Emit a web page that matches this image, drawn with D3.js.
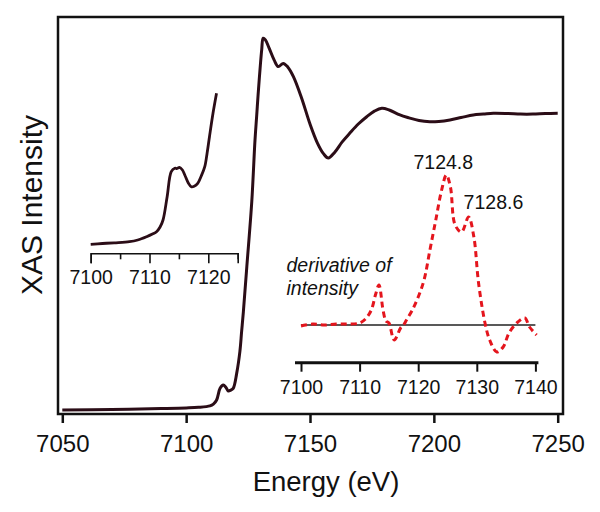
<!DOCTYPE html>
<html>
<head>
<meta charset="utf-8">
<script src="https://cdn.jsdelivr.net/npm/d3@7"></script>
<style>
  html, body { margin: 0; padding: 0; background: #fff; }
  svg { display: block; }
  text { font-family: "Liberation Sans", Arial, sans-serif; fill: #111; }
</style>
</head>
<body>
<svg id="chart" width="600" height="512"></svg>
<script>
// ---- Main XAS spectrum (energy eV, normalized intensity) ----
const mainEnergy = [7050, 7070, 7090, 7100, 7105, 7109.6, 7111, 7112.3, 7113.7, 7115, 7116, 7117, 7118, 7119,
  7120.4, 7121.7, 7122.4, 7123.1, 7124.5, 7126.5, 7127.8, 7128.5, 7129.1, 7130.5, 7131.1, 7132, 7133.5, 7135.5,
  7137.2, 7139.2, 7141, 7143.3, 7146.6, 7150, 7153, 7155.5, 7157.4, 7160, 7163, 7166.1, 7169.5, 7172.9, 7176,
  7179, 7182, 7186.3, 7190, 7194, 7198.4, 7202, 7206.5, 7211, 7215.9, 7220, 7224, 7230, 7235, 7240, 7245, 7250];
const mainIntensity = [0.000, 0.002, 0.005, 0.007, 0.009, 0.014, 0.020, 0.034, 0.074, 0.085, 0.078, 0.065, 0.068, 0.074,
  0.125, 0.200, 0.268, 0.335, 0.490, 0.712, 0.922, 1.007, 1.082, 1.229, 1.269, 1.263, 1.235, 1.195,
  1.172, 1.183, 1.171, 1.138, 1.065, 0.976, 0.911, 0.874, 0.860, 0.880, 0.915, 0.945, 0.976, 1.001, 1.020,
  1.030, 1.024, 1.007, 0.997, 0.988, 0.984, 0.985, 0.990, 0.998, 1.007, 1.010, 1.013, 1.012, 1.010, 1.010, 1.012, 1.013];
const mainTicks = [7050, 7100, 7150, 7200, 7250];

// ---- Pre-edge inset (energy eV, intensity arb. units) ----
const preEnergy = [7100, 7102, 7104, 7106.6, 7108, 7109.5, 7110.5, 7111.2, 7111.8, 7112.3, 7113, 7113.7, 7114.3,
  7114.7, 7115.1, 7115.6, 7116, 7116.6, 7117.1, 7117.6, 7118.2, 7118.8, 7119.4, 7119.8, 7120.2, 7120.8, 7121.4];
const preIntensity = [0, 0.8, 1.5, 2.6, 4.3, 7.6, 10.3, 12.6, 17.3, 24.3, 47.6, 72.6, 76,
  75.8, 77, 74.3, 69.3, 61.3, 57.6, 58.1, 61, 68.3, 77.6, 91.3, 107.6, 131, 151];
const preTicks = [7100, 7105, 7110, 7115, 7120, 7125];
const preTickLabels = [7100, 7110, 7120];

// ---- Derivative inset (energy eV, derivative arb. units) ----
const derivEnergy = [7100, 7102, 7104, 7106, 7108, 7110, 7111, 7112, 7112.7, 7113.3, 7114, 7114.5, 7115, 7115.9,
  7117, 7117.5, 7118, 7119, 7120, 7121, 7122, 7123, 7124, 7124.8, 7125.5, 7126.3, 7127.4, 7128.6, 7129.5,
  7130.3, 7131.4, 7132.2, 7133.4, 7134.5, 7135.5, 7137, 7138.2, 7139, 7140.2];
const derivValue = [-1, 1, 0, 1, 1, 2, 6, 15, 30, 40, 15, 4, 2, -15,
  -3, 0, 5, 15, 28, 45, 75, 105, 135, 150, 138, 100, 93, 108, 88,
  42, 2, -15, -27, -22, -8, 3, 7, -2, -10];
const derivTicks = [7100, 7110, 7120, 7130, 7140];
const peakLabels = ["7124.8", "7128.6"];
const peakEnergies = [7124.8, 7128.6];

const svg = d3.select("#chart");
const fontFam = '"Liberation Sans", Arial, sans-serif';
const curveColor = "#2b0d17";
const red = "#e4151d";

// ---- Main scales ----
const x = d3.scaleLinear().domain([7050, 7250]).range([62.3, 557.7]);
const y = d3.scaleLinear().domain([0, 1]).range([410, 117]);

const frame = {left: 58, right: 563, top: 17, bottom: 414};

// main curve
const mainData = mainEnergy.map((e, i) => [e, mainIntensity[i]]);
svg.append("path")
  .datum(mainData)
  .attr("fill", "none")
  .attr("stroke", curveColor)
  .attr("stroke-width", 3)
  .attr("stroke-linejoin", "round")
  .attr("d", d3.line().x(d => x(d[0])).y(d => y(d[1])).curve(d3.curveCatmullRom.alpha(0.5)));

// frame
svg.append("rect")
  .attr("x", frame.left).attr("y", frame.top)
  .attr("width", frame.right - frame.left).attr("height", frame.bottom - frame.top)
  .attr("fill", "none").attr("stroke", "#111").attr("stroke-width", 2.5);

// main x axis
const xAxis = d3.axisBottom(x).tickValues(mainTicks).tickFormat(d3.format("d")).tickSize(9).tickPadding(12);
const gx = svg.append("g").attr("transform", `translate(0,${frame.bottom})`).call(xAxis);
gx.select(".domain").remove();
gx.selectAll(".tick line").attr("stroke", "#111").attr("stroke-width", 2.5);
gx.selectAll(".tick text").attr("font-size", 24).attr("font-family", fontFam).attr("fill", "#111");

// axis titles
svg.append("text").attr("x", 326).attr("y", 491).attr("text-anchor", "middle")
  .attr("font-size", 27.5).text("Energy (eV)");
svg.append("text").attr("transform", "translate(42,205) rotate(-90)").attr("text-anchor", "middle")
  .attr("font-size", 30).text("XAS Intensity");

// ---- Pre-edge inset ----
const xp = d3.scaleLinear().domain([7100, 7125]).range([90.7, 237.7]);
const yp = d3.scaleLinear().domain([0, 151]).range([244.3, 93.3]);
const preData = preEnergy.map((e, i) => [e, preIntensity[i]]);
svg.append("path")
  .datum(preData)
  .attr("fill", "none")
  .attr("stroke", curveColor)
  .attr("stroke-width", 2.8)
  .attr("stroke-linejoin", "round")
  .attr("d", d3.line().x(d => xp(d[0])).y(d => yp(d[1])).curve(d3.curveCatmullRom.alpha(0.5)));

const preAxisY = 253.3;
const gp = svg.append("g").attr("transform", `translate(0,${preAxisY})`)
  .call(d3.axisBottom(xp).tickValues(preTicks).tickSizeOuter(0).tickSize(10).tickPadding(7)
    .tickFormat(d => preTickLabels.includes(d) ? d3.format("d")(d) : ""));
gp.select(".domain").attr("stroke", "#111").attr("stroke-width", 1.6);
gp.selectAll(".tick line").attr("stroke", "#111").attr("stroke-width", 1.6)
  .attr("y2", d => preTickLabels.includes(d) ? 10 : 6);
gp.selectAll(".tick text").attr("font-size", 19.5).attr("font-family", fontFam).attr("fill", "#111");

// ---- Derivative inset ----
const xd = d3.scaleLinear().domain([7100, 7140]).range([301, 535.4]);
const yd = d3.scaleLinear().domain([0, 150]).range([325, 175]);

// zero line
svg.append("line")
  .attr("x1", xd(7100)).attr("x2", xd(7140))
  .attr("y1", yd(0)).attr("y2", yd(0))
  .attr("stroke", "#222").attr("stroke-width", 1.3);

const derivData = derivEnergy.map((e, i) => [e, derivValue[i]]);
svg.append("path")
  .datum(derivData)
  .attr("fill", "none")
  .attr("stroke", red)
  .attr("stroke-width", 3)
  .attr("stroke-dasharray", "6,4")
  .attr("d", d3.line().x(d => xd(d[0])).y(d => yd(d[1])).curve(d3.curveCatmullRom.alpha(0.5)));

const derivAxisY = 362.7;
const gd = svg.append("g").attr("transform", `translate(0,${derivAxisY})`)
  .call(d3.axisBottom(xd).tickValues(derivTicks).tickSizeOuter(0).tickSize(9).tickPadding(8)
    .tickFormat(d3.format("d")));
gd.select(".domain").attr("stroke", "#111").attr("stroke-width", 3)
  .attr("d", `M${xd(7100) - 6},0H${xd(7140) + 3}`);
gd.selectAll(".tick line").attr("stroke", "#111").attr("stroke-width", 2);
gd.selectAll(".tick text").attr("font-size", 19.5).attr("font-family", fontFam).attr("fill", "#111");

// peak labels
svg.append("text").attr("x", xd(peakEnergies[0]) - 3).attr("y", 168.5).attr("text-anchor", "middle")
  .attr("font-size", 19.5).text(peakLabels[0]);
svg.append("text").attr("x", xd(peakEnergies[1]) - 5).attr("y", 208.5).attr("text-anchor", "start")
  .attr("font-size", 19.5).text(peakLabels[1]);

// derivative caption
svg.append("text").attr("x", 286.5).attr("y", 271.5).attr("font-size", 19.5)
  .attr("font-style", "italic").text("derivative of");
svg.append("text").attr("x", 286.5).attr("y", 294.5).attr("font-size", 19.5)
  .attr("font-style", "italic").text("intensity");
</script>
</body>
</html>
